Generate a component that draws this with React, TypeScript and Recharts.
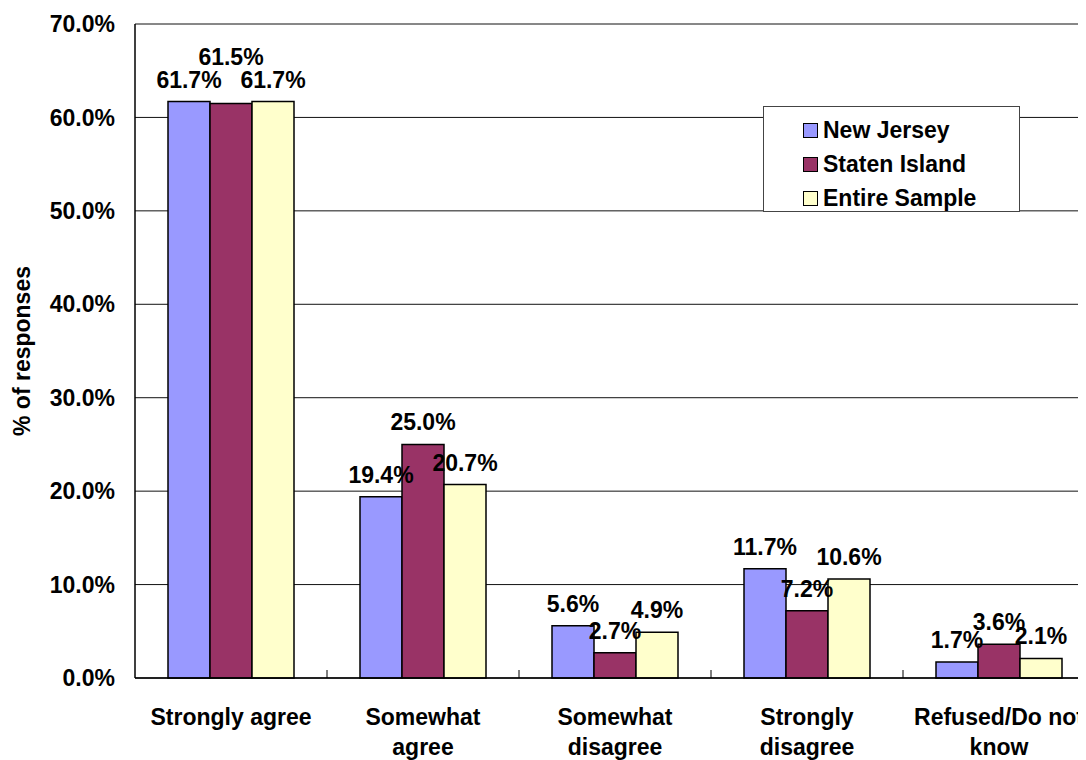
import { BarChart, Bar, XAxis, YAxis, CartesianGrid, Legend, LabelList, Label } from 'recharts';

const categories = ['Strongly agree', 'Somewhat agree', 'Somewhat disagree', 'Strongly disagree', 'Refused/Do not know'];
const categoryLines = [
  ['Strongly agree'],
  ['Somewhat', 'agree'],
  ['Somewhat', 'disagree'],
  ['Strongly', 'disagree'],
  ['Refused/Do not', 'know'],
];
const newJersey = [61.7, 19.4, 5.6, 11.7, 1.7];
const statenIsland = [61.5, 25.0, 2.7, 7.2, 3.6];
const entireSample = [61.7, 20.7, 4.9, 10.6, 2.1];
const yTicks = [0, 10, 20, 30, 40, 50, 60, 70];

const series = [
  { key: 'nj', name: 'New Jersey', color: '#9999FF' },
  { key: 'si', name: 'Staten Island', color: '#993366' },
  { key: 'es', name: 'Entire Sample', color: '#FFFFCC' },
];

const data = categories.map((c, i) => ({
  category: c,
  lines: categoryLines[i],
  nj: newJersey[i],
  si: statenIsland[i],
  es: entireSample[i],
}));

const FONT = 'Arial, "Liberation Sans", sans-serif';
const FS = 23;

// Excel nudged this one label up so it does not collide with its neighbours
const raisedLabel = { key: 'si', index: 0, lift: 24 };

const CategoryTick = ({ x, y, payload, index }: any) => {
  const lines = categoryLines[index] || [String(payload.value)];
  const half = payload && payload.offset ? payload.offset : 96;
  return (
    <g>
      <line x1={x + half} y1={y - 8} x2={x + half} y2={y} stroke="#000" strokeWidth={1} />
      <text x={x} y={y + 47} textAnchor="middle" fontFamily={FONT} fontSize={FS} fontWeight="bold" fill="#000">
        {lines.map((l: string, i: number) => (
          <tspan key={i} x={x} dy={i === 0 ? 0 : 30}>{l}</tspan>
        ))}
      </text>
    </g>
  );
};

const makeValueLabel = (key: string) => (props: any) => {
  const { x, y, width, value, index } = props;
  const lift = key === raisedLabel.key && index === raisedLabel.index ? raisedLabel.lift : 0;
  return (
    <text
      x={x + width / 2}
      y={y - 14 - lift}
      textAnchor="middle"
      fontFamily={FONT}
      fontSize={FS}
      fontWeight="bold"
      fill="#000"
    >
      {Number(value).toFixed(1)}%
    </text>
  );
};

const LegendBox = () => (
  <div
    style={{
      width: 257,
      height: 106,
      boxSizing: 'border-box',
      border: '1px solid #444',
      background: '#fff',
      paddingTop: 6,
      paddingLeft: 39,
    }}
  >
    {series.map((s) => (
      <div key={s.key} style={{ display: 'flex', alignItems: 'center', height: 34 }}>
        <span
          style={{
            display: 'inline-block',
            width: 15,
            height: 15,
            boxSizing: 'border-box',
            background: s.color,
            border: '1.5px solid #000',
            marginRight: 5,
          }}
        />
        <span style={{ fontFamily: FONT, fontSize: FS, fontWeight: 'bold', color: '#000' }}>{s.name}</span>
      </div>
    ))}
  </div>
);

export default function App() {
  return (
    <div style={{ width: 1078, height: 752, overflow: 'hidden', background: '#fff' }}>
      <BarChart
        width={1100}
        height={752}
        data={data}
        margin={{ top: 16, right: 13, left: 0, bottom: 0 }}
        barCategoryGap={33}
        barGap={0}
      >
        <CartesianGrid horizontal vertical={false} stroke="#111" strokeWidth={1} />
        <XAxis
          dataKey="category"
          height={82}
          interval={0}
          tickLine={false}
          tickSize={0}
          tickMargin={0}
          axisLine={{ stroke: '#000', strokeWidth: 1.5 }}
          tick={<CategoryTick />}
        />
        <YAxis
          width={127}
          domain={[0, 70]}
          ticks={yTicks}
          interval={0}
          tickLine={false}
          tickSize={0}
          tickMargin={20}
          axisLine={{ stroke: '#000', strokeWidth: 1.5 }}
          tickFormatter={(v: number) => `${v.toFixed(1)}%`}
          tick={{ fontFamily: FONT, fontSize: FS, fontWeight: 'bold', fill: '#000' }}
        >
          <Label
            content={(p: any) => {
              const vb = p.viewBox || { x: 0, y: 16, height: 654 };
              const cx = vb.x + 14;
              const cy = vb.y + vb.height / 2;
              return (
                <text
                  x={cx}
                  y={cy}
                  transform={`rotate(-90 ${cx} ${cy})`}
                  textAnchor="middle"
                  dominantBaseline="central"
                  fontFamily={FONT}
                  fontSize={FS}
                  fontWeight="bold"
                  fill="#000"
                >
                  % of responses
                </text>
              );
            }}
          />
        </YAxis>
        <Legend
          layout="vertical"
          align="center"
          verticalAlign="middle"
          wrapperStyle={{ left: 755, top: 98, width: 257, height: 106 }}
          content={<LegendBox />}
        />
        {series.map((s) => (
          <Bar
            key={s.key}
            dataKey={s.key}
            name={s.name}
            fill={s.color}
            stroke="#000"
            strokeWidth={1.5}
            isAnimationActive={false}
          >
            <LabelList dataKey={s.key} content={makeValueLabel(s.key)} />
          </Bar>
        ))}
      </BarChart>
    </div>
  );
}
